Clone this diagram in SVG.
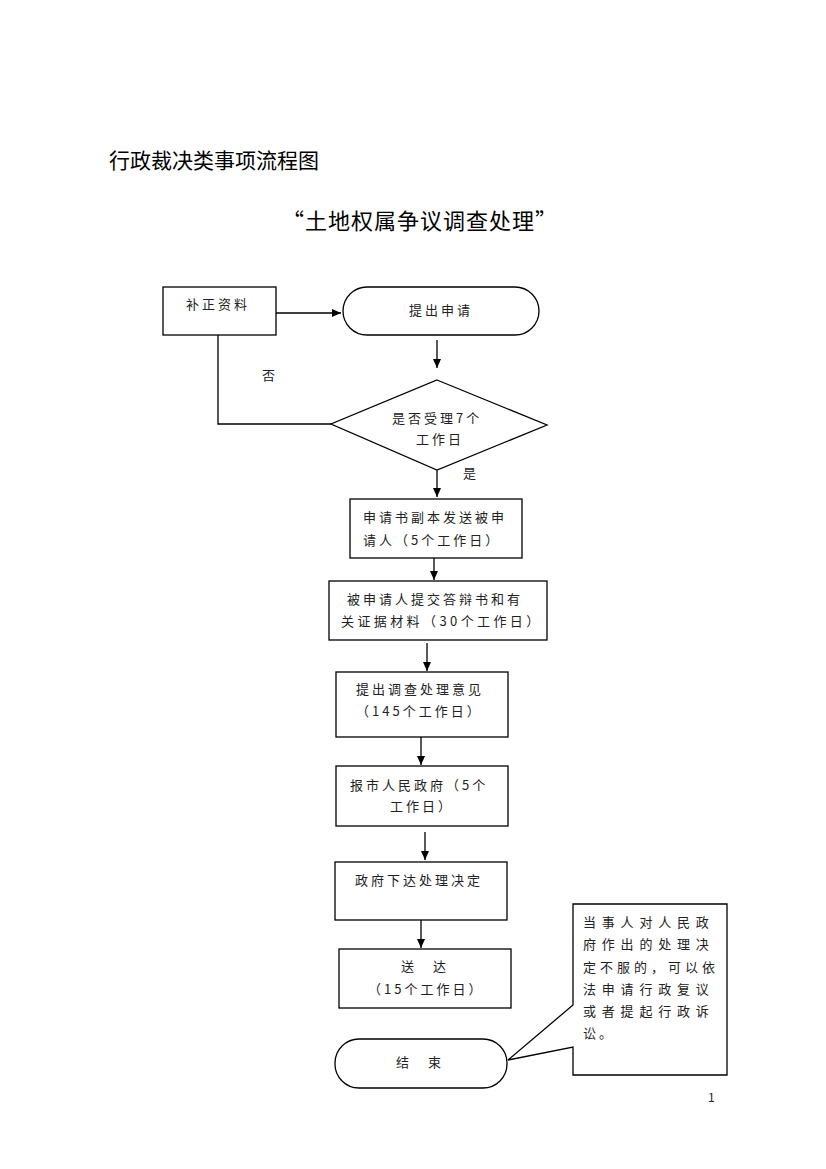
<svg xmlns="http://www.w3.org/2000/svg" width="826" height="1169" viewBox="0 0 826 1169">
<style>
.bg{fill:#fff}
.box{fill:#fff;stroke:#000;stroke-width:1.3}
.ln{fill:none;stroke:#000;stroke-width:1.3}
.t{font-family:"Noto Sans CJK SC","Liberation Serif",serif;font-size:13px;fill:#222;letter-spacing:3px}
.tm{text-anchor:middle}
.title{font-family:"Noto Sans CJK SC",sans-serif;font-size:21px;fill:#000}
.sub{font-family:"Noto Sans CJK SC",serif;font-size:22px;fill:#000;text-anchor:middle;letter-spacing:1px}
</style>
<defs>
<marker id="ah" markerWidth="10" markerHeight="10" refX="9" refY="5" orient="auto" markerUnits="userSpaceOnUse">
<path d="M0,1 L9,5 L0,9 Z" fill="#000"/>
</marker>
</defs>
<rect class="bg" x="0" y="0" width="826" height="1169"/>
<text class="title" x="109" y="168">行政裁决类事项流程图</text>
<text class="sub" x="420" y="229">“土地权属争议调查处理”</text>

<g id="connectors">
<line class="ln" x1="276" y1="313" x2="341" y2="313" marker-end="url(#ah)"/>
<line class="ln" x1="437" y1="340" x2="437" y2="368" marker-end="url(#ah)"/>
<polyline class="ln" points="331,424 218,424 218,335"/>
<line class="ln" x1="437" y1="470" x2="437" y2="497" marker-end="url(#ah)"/>
<line class="ln" x1="434" y1="558" x2="434" y2="580" marker-end="url(#ah)"/>
<line class="ln" x1="427" y1="643" x2="427" y2="671" marker-end="url(#ah)"/>
<line class="ln" x1="421" y1="737" x2="421" y2="765" marker-end="url(#ah)"/>
<line class="ln" x1="425" y1="832" x2="425" y2="860" marker-end="url(#ah)"/>
<line class="ln" x1="421" y1="920" x2="421" y2="948" marker-end="url(#ah)"/>
<text class="t" x="262" y="380">否</text>
<text class="t" x="463" y="478">是</text>
</g>

<g id="n-buzheng">
<rect class="box" x="163" y="287" width="113" height="48"/>
<text class="t" x="186" y="309">补正资料</text>
</g>
<g id="n-tichu">
<rect class="box" x="343" y="287" width="196" height="48" rx="24" ry="24"/>
<text class="t tm" x="441" y="315">提出申请</text>
</g>
<g id="n-shouli">
<polygon class="box" points="437,380 547,425 437,470 331,424"/>
<text class="t" x="392" y="423">是否受理7个</text>
<text class="t" x="416" y="444">工作日</text>
</g>
<g id="n-fuben">
<rect class="box" x="350" y="499" width="172" height="59"/>
<text class="t" x="363" y="522">申请书副本发送被申</text>
<text class="t" x="363" y="545">请人（5个工作日）</text>
</g>
<g id="n-dabian">
<rect class="box" x="329" y="581" width="218" height="59"/>
<text class="t" x="347" y="604">被申请人提交答辩书和有</text>
<text class="t" x="341" y="626" style="letter-spacing:3.4px">关证据材料（30个工作日）</text>
</g>
<g id="n-yijian">
<rect class="box" x="336" y="672" width="172" height="65"/>
<text class="t" x="356" y="694">提出调查处理意见</text>
<text class="t" x="356" y="716">（145个工作日）</text>
</g>
<g id="n-baoshi">
<rect class="box" x="336" y="766" width="172" height="60"/>
<text class="t" x="350" y="790">报市人民政府（5个</text>
<text class="t" x="390" y="811">工作日）</text>
</g>
<g id="n-xiada">
<rect class="box" x="335" y="862" width="172" height="58"/>
<text class="t" x="355" y="885">政府下达处理决定</text>
</g>
<g id="n-songda">
<rect class="box" x="339" y="949" width="172" height="59"/>
<text class="t" x="401" y="971" xml:space="preserve">送　达</text>
<text class="t" x="368" y="994">（15个工作日）</text>
</g>
<g id="n-jieshu">
<rect class="box" x="335" y="1039" width="172" height="49" rx="24" ry="24"/>
<text class="t" x="396" y="1067" xml:space="preserve">结　束</text>
</g>
<g id="n-note">
<path class="box" d="M573,904 L727,904 L727,1075 L573,1075 L573,1047 L508,1060 L573,1005 Z"/>
<text class="t" x="583" y="927" style="letter-spacing:5.8px">当事人对人民政</text>
<text class="t" x="583" y="949" style="letter-spacing:5.8px">府作出的处理决</text>
<text class="t" x="583" y="972" style="letter-spacing:4px">定不服的，可以依</text>
<text class="t" x="583" y="994" style="letter-spacing:5.8px">法申请行政复议</text>
<text class="t" x="583" y="1016" style="letter-spacing:5.8px">或者提起行政诉</text>
<text class="t" x="583" y="1038">讼。</text>
</g>
<text class="t" x="708" y="1102" style="font-size:12px">1</text>
</svg>
